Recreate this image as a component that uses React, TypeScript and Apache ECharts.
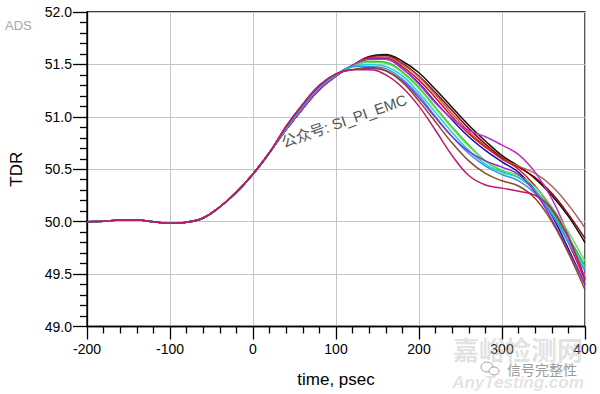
import React, { useEffect, useRef } from "react";
import * as echarts from "echarts";

const FONT = "'Liberation Sans', Arial, 'Noto Sans CJK SC', sans-serif";

// sample times (psec)
const times = [
  -200, -180, -160, -140, -120, -100, -80, -60, -40, -20, 0, 20,
  40, 60, 80, 100, 120,
  140, 160, 180, 200, 220, 240, 260, 280, 300, 320, 340, 360, 380, 400,
];

// shared part of all traces, t = -200 .. 20
const commonHead = [
  50.0, 50.005, 50.015, 50.015, 50.0, 49.985, 49.995, 50.035, 50.14, 50.28, 50.455, 50.66,
];

// rising part, t = 40 .. 120
const riseHigh = [50.88, 51.08, 51.26, 51.39, 51.49];
const riseMid = [50.89, 51.1, 51.28, 51.4, 51.48];
const riseLow = [50.91, 51.12, 51.3, 51.41, 51.45];

// t = 140 .. 400
const tailBlack = [51.575, 51.595, 51.53, 51.42, 51.26, 51.09, 50.92, 50.77, 50.63, 50.53, 50.41, 50.25, 50.05, 49.8];
const tailMaroon = [51.57, 51.585, 51.51, 51.39, 51.23, 51.06, 50.89, 50.74, 50.61, 50.52, 50.42, 50.27, 50.07, 49.84];
const tailRosy = [51.56, 51.57, 51.5, 51.38, 51.21, 51.03, 50.86, 50.72, 50.6, 50.53, 50.46, 50.34, 50.16, 49.94];
const tailRed = [51.56, 51.56, 51.48, 51.35, 51.18, 51.0, 50.84, 50.71, 50.6, 50.5, 50.34, 50.12, 49.8, 49.44];
const tailNavy = [51.55, 51.55, 51.46, 51.32, 51.14, 50.97, 50.81, 50.68, 50.57, 50.47, 50.3, 50.06, 49.74, 49.4];
const tailMagenta = [51.55, 51.55, 51.46, 51.31, 51.13, 50.98, 50.87, 50.81, 50.73, 50.64, 50.47, 50.22, 49.87, 49.46];
const tailGreen = [51.53, 51.52, 51.43, 51.28, 51.09, 50.9, 50.73, 50.58, 50.48, 50.42, 50.3, 50.1, 49.85, 49.58];
const tailLightGreen = [51.52, 51.51, 51.42, 51.27, 51.08, 50.89, 50.72, 50.58, 50.49, 50.44, 50.33, 50.14, 49.9, 49.62];
const tailCyan = [51.5, 51.48, 51.39, 51.23, 51.04, 50.85, 50.68, 50.55, 50.47, 50.42, 50.3, 50.08, 49.82, 49.56];
const tailSteel = [51.48, 51.46, 51.36, 51.2, 51.0, 50.81, 50.65, 50.53, 50.45, 50.39, 50.27, 50.07, 49.8, 49.53];
const tailPurple = [51.46, 51.44, 51.34, 51.18, 50.99, 50.81, 50.67, 50.58, 50.52, 50.45, 50.28, 50.02, 49.72, 49.4];
const tailBrown = [51.47, 51.44, 51.33, 51.15, 50.95, 50.75, 50.58, 50.46, 50.39, 50.34, 50.22, 50.0, 49.7, 49.35];
const tailCrimson = [51.45, 51.4, 51.28, 51.1, 50.87, 50.63, 50.44, 50.35, 50.32, 50.29, 50.25, 50.12, 49.85, 49.45];

const traces = [
  { name: "black", color: "#111111", rise: riseHigh, tail: tailBlack },
  { name: "maroon", color: "#8b0000", rise: riseHigh, tail: tailMaroon },
  { name: "rosy", color: "#b0605a", rise: riseHigh, tail: tailRosy },
  { name: "red", color: "#e01010", rise: riseHigh, tail: tailRed },
  { name: "navy", color: "#1010b0", rise: riseHigh, tail: tailNavy },
  { name: "magenta", color: "#c030c8", rise: riseHigh, tail: tailMagenta },
  { name: "green", color: "#20c020", rise: riseMid, tail: tailGreen },
  { name: "lightgreen", color: "#60e060", rise: riseMid, tail: tailLightGreen },
  { name: "cyan", color: "#20d0d0", rise: riseMid, tail: tailCyan },
  { name: "steel", color: "#3a90e0", rise: riseMid, tail: tailSteel },
  { name: "purple", color: "#8a30d8", rise: riseLow, tail: tailPurple },
  { name: "brown", color: "#8b4a2a", rise: riseLow, tail: tailBrown },
  { name: "crimson", color: "#c0186e", rise: riseLow, tail: tailCrimson },
];

export default function App() {
  const ref = useRef<HTMLDivElement>(null);

  useEffect(() => {
    document.body.style.margin = "0";
    if (!ref.current) return;
    const chart = echarts.init(ref.current, undefined, { renderer: "svg" });

    const series = traces.map((tr) => {
      const vals = [...commonHead, ...tr.rise, ...tr.tail];
      return {
        name: tr.name,
        type: "line",
        data: times.map((t, i) => [t, vals[i]]),
        smooth: 0.4,
        showSymbol: false,
        symbol: "none",
        lineStyle: { color: tr.color, width: 1.5 },
        z: 3,
      };
    });

    const tickStyle = { color: "#000", width: 1.3 };

    chart.setOption({
      animation: false,
      backgroundColor: "#fff",
      grid: {
        left: 87,
        top: 12,
        width: 498,
        height: 314.5,
        show: true,
        borderColor: "#000",
        borderWidth: 1.3,
        backgroundColor: "#fff",
      },
      xAxis: {
        type: "value",
        min: -200,
        max: 400,
        interval: 100,
        name: "time, psec",
        nameLocation: "middle",
        nameGap: 44,
        nameTextStyle: { fontSize: 17, color: "#000", fontFamily: FONT },
        axisLine: { show: true, onZero: false, lineStyle: tickStyle },
        axisTick: { show: true, length: 13, lineStyle: tickStyle },
        minorTick: { show: true, splitNumber: 5, length: 7, lineStyle: tickStyle },
        axisLabel: { fontSize: 14, color: "#000", margin: 15, fontFamily: FONT },
        splitLine: { show: true, lineStyle: { color: "#c4c4c4", width: 1 } },
      },
      yAxis: {
        type: "value",
        min: 49,
        max: 52,
        interval: 0.5,
        name: "TDR",
        nameLocation: "middle",
        nameGap: 62,
        nameTextStyle: { fontSize: 17, color: "#000", fontFamily: FONT },
        axisLine: { show: true, onZero: false, lineStyle: tickStyle },
        axisTick: { show: true, length: 14, lineStyle: tickStyle },
        minorTick: { show: true, splitNumber: 5, length: 7, lineStyle: tickStyle },
        axisLabel: {
          fontSize: 14,
          color: "#000",
          margin: 15,
          fontFamily: FONT,
          formatter: (v: number) => v.toFixed(1),
        },
        splitLine: { show: true, lineStyle: { color: "#c4c4c4", width: 1 } },
      },
      graphic: [
        {
          type: "text",
          x: 5,
          y: 25,
          style: {
            text: "ADS",
            fontSize: 13,
            fontFamily: FONT,
            fill: "#a8a8a8",
            textVerticalAlign: "middle",
          },
          z: 10,
        },
        {
          type: "text",
          x: 344,
          y: 121,
          rotation: 0.34,
          style: {
            text: "公众号: SI_PI_EMC",
            fontSize: 15,
            fontFamily: FONT,
            fill: "#555555",
            textAlign: "center",
            textVerticalAlign: "middle",
          },
          z: 20,
        },
        {
          type: "text",
          x: 518,
          y: 348,
          style: {
            text: "嘉峪检测网",
            fontSize: 26,
            fontWeight: "bold",
            fontFamily: "'Noto Sans CJK SC', sans-serif",
            fill: "rgba(190,190,190,0.45)",
            textAlign: "center",
            textVerticalAlign: "middle",
          },
          z: 20,
        },
        {
          type: "text",
          x: 542,
          y: 369,
          style: {
            text: "信号完整性",
            fontSize: 14,
            fontFamily: "'Noto Sans CJK SC', sans-serif",
            fill: "#9a9a9a",
            textAlign: "center",
            textVerticalAlign: "middle",
          },
          z: 21,
        },
        {
          type: "ellipse",
          shape: { cx: 487, cy: 367, rx: 6, ry: 5 },
          style: { fill: "none", stroke: "#a0a0a0", lineWidth: 1 },
          z: 21,
        },
        {
          type: "ellipse",
          shape: { cx: 494, cy: 371, rx: 5, ry: 4 },
          style: { fill: "#fff", stroke: "#a0a0a0", lineWidth: 1 },
          z: 21,
        },
        {
          type: "text",
          x: 518,
          y: 382,
          style: {
            text: "AnyTesting.com",
            fontSize: 17,
            fontStyle: "italic",
            fontWeight: "bold",
            fontFamily: FONT,
            fill: "rgba(200,200,200,0.5)",
            textAlign: "center",
            textVerticalAlign: "middle",
          },
          z: 20,
        },
      ],
      series,
    });

    return () => chart.dispose();
  }, []);

  return <div ref={ref} style={{ width: 600, height: 394 }} />;
}
